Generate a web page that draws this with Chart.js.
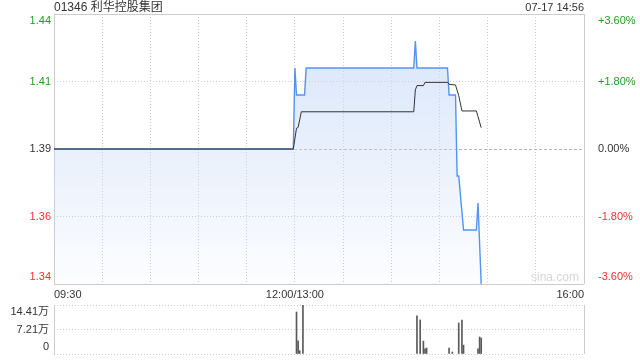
<!DOCTYPE html>
<html>
<head>
<meta charset="utf-8">
<script src="https://cdn.jsdelivr.net/npm/chart.js@4.4.1/dist/chart.umd.min.js"></script>
<style>
    html, body { margin: 0; padding: 0; background: #fff; }
    body { width: 640px; height: 360px; position: relative; overflow: hidden; font-family: "Liberation Sans", Arial, "Noto Sans CJK SC", sans-serif; }
    #title { position: absolute; left: 54px; top: 0; font-size: 12px; line-height: 14px; color: #333; }
    #stamp { position: absolute; right: 56px; top: 1px; font-size: 11px; line-height: 13px; color: #333; }
    #mark { position: absolute; left: 531px; top: 270px; font-size: 12px; line-height: 14px; color: #d6d6d6; }
    #priceBox { position: absolute; left: 0; top: 0; width: 640px; height: 300px; }
    #volBox { position: absolute; left: 0; top: 300px; width: 640px; height: 60px; }
</style>
</head>
<body>
<div id="priceBox"><canvas id="priceChart"></canvas></div>
<div id="volBox"><canvas id="volChart"></canvas></div>
<div id="title">01346 利华控股集团</div>
<div id="stamp">07-17 14:56</div>
<div id="mark">sina.com</div>
<script>
// Data (minutes counted from 09:30, lunch break removed: 150 = 12:00/13:00, 330 = 16:00)
const basePrice = 1.39;
const pctTicks = [-3.6, -1.8, 0, 1.8, 3.6];
const priceTickLabels = ['1.34', '1.36', '1.39', '1.41', '1.44'];
const pctTickLabels = ['-3.60%', '-1.80%', '0.00%', '+1.80%', '+3.60%'];
const timeTickMinutes = [0, 150, 330];
const timeTickLabels = ['09:30', '12:00/13:00', '16:00'];

const priceMinutes = [0, 149, 150, 151, 156, 157, 224, 225, 226, 245, 246, 250, 251, 252, 255, 263, 264, 266];
const priceValues = [1.39, 1.39, 1.42, 1.41, 1.41, 1.42, 1.42, 1.43, 1.42, 1.42, 1.41, 1.41, 1.38, 1.38, 1.36, 1.36, 1.37, 1.34];

const avgMinutes = [0, 149, 151, 152, 154, 224, 225, 226, 230, 231, 245, 246, 250, 252, 254, 263, 264, 266];
const avgValues = [1.39, 1.39, 1.3977, 1.398, 1.4038, 1.4038, 1.4119, 1.4135, 1.4135, 1.4147, 1.4147, 1.414, 1.4137, 1.4098, 1.4041, 1.4041, 1.402, 1.3979];

const volMinutes = [151, 152, 153, 155, 226, 228, 230, 231, 232, 246, 248, 252, 254, 255, 264, 265, 266];
const volValues = [12.35, 3.9, 0.97, 14.41, 11.2, 10.0, 3.8, 1.5, 1.76, 1.76, 0.6, 9.1, 10.0, 2.6, 1.5, 5.0, 4.7];
const volTicks = [0, 7.205, 14.41];
const volTickLabels = ['0', '7.21万', '14.41万'];

const FONT = 'Liberation Sans, Arial, "Noto Sans CJK SC", sans-serif';
const GRID = '#cccccc';

// first/last y labels sit inside the box
function edgeLabel(text, i, n) {
    if (i === 0) return [text, ''];
    if (i === n - 1) return ['', text];
    return text;
}

function tickTone(i) {
    if (i > 2) return '#1f9e1f';
    if (i < 2) return '#ee3333';
    return '#333';
}

// keep the plot box fixed, labels are free to overhang
function fixWidth(w) {
    return (scale) => {
        scale.width = w;
        scale.paddingTop = 0;
        scale.paddingBottom = 0;
    };
}

const priceMin = basePrice * (1 - 0.036);
const priceMax = basePrice * (1 + 0.036);
const priceTickValues = pctTicks.map(p => basePrice * (1 + p / 100));
const halfDay = 30;

const xGridTicks = [];
for (let m = 0; m <= 330; m += halfDay) xGridTicks.push({ value: m });

function toPoints(xs, ys) {
    return xs.map((x, i) => ({ x, y: ys[i] }));
}

// Price chart
new Chart(document.getElementById('priceChart'), {
    type: 'line',
    data: {
        datasets: [
            {
                data: toPoints(avgMinutes, avgValues),
                borderColor: '#333',
                borderWidth: 1,
                pointRadius: 0,
                fill: false
            },
            {
                data: toPoints(priceMinutes, priceValues),
                borderColor: '#5593ef',
                borderWidth: 1.4,
                pointRadius: 0,
                fill: 'start',
                backgroundColor: (ctx) => {
                    const area = ctx.chart.chartArea;
                    if (!area) return 'rgba(200,218,248,0.4)';
                    const g = ctx.chart.ctx.createLinearGradient(0, area.top, 0, area.bottom);
                    g.addColorStop(0, 'rgba(200,218,248,0.75)');
                    g.addColorStop(1, 'rgba(200,218,248,0.05)');
                    return g;
                }
            }
        ]
    },
    options: {
        responsive: true,
        maintainAspectRatio: false,
        animation: false,
        layout: { padding: { top: 14, left: 0, right: 0, bottom: 0 } },
        plugins: { legend: { display: false }, tooltip: { enabled: false } },
        scales: {
            x: {
                type: 'linear',
                min: 0,
                max: 330,
                afterBuildTicks: (scale) => { scale.ticks = xGridTicks.map(t => ({ value: t.value })); },
                afterFit: (scale) => {
                    scale.height = 16;
                    scale.paddingLeft = 0;
                    scale.paddingRight = 0;
                },
                border: {
                    display: false,
                    dash: (ctx) => {
                        if (ctx.index === undefined) return [];
                        return (ctx.index === 0 || ctx.index === xGridTicks.length - 1) ? [] : [1, 2];
                    }
                },
                grid: { color: GRID, lineWidth: 1, drawTicks: false },
                ticks: {
                    autoSkip: false,
                    maxRotation: 0,
                    minRotation: 0,
                    align: 'inner',
                    padding: 4,
                    color: '#333',
                    font: { family: FONT, size: 11 },
                    callback: (v) => {
                        const k = timeTickMinutes.indexOf(v);
                        return k >= 0 ? timeTickLabels[k] : '';
                    }
                }
            },
            y: {
                type: 'linear',
                position: 'left',
                min: priceMin,
                max: priceMax,
                afterBuildTicks: (scale) => { scale.ticks = priceTickValues.map(v => ({ value: v })); },
                afterFit: fixWidth(54),
                border: {
                    display: false,
                    dash: (ctx) => {
                        if (ctx.index === undefined) return [];
                        if (ctx.index === 0 || ctx.index === 4) return [];
                        return ctx.index === 2 ? [3, 2] : [1, 2];
                    }
                },
                grid: {
                    drawTicks: false,
                    color: (ctx) => ctx.index === 2 ? '#b4b4b4' : GRID
                },
                ticks: {
                    autoSkip: false,
                    padding: 3,
                    font: { family: FONT, size: 11 },
                    color: (ctx) => tickTone(ctx.index),
                    callback: (v, i) => edgeLabel(priceTickLabels[i], i, priceTickLabels.length)
                }
            },
            y2: {
                type: 'linear',
                position: 'right',
                min: priceMin,
                max: priceMax,
                afterBuildTicks: (scale) => { scale.ticks = priceTickValues.map(v => ({ value: v })); },
                afterFit: fixWidth(56),
                border: { display: false },
                grid: { display: false },
                ticks: {
                    autoSkip: false,
                    padding: 6,
                    font: { family: FONT, size: 11 },
                    color: (ctx) => tickTone(ctx.index),
                    callback: (v, i) => edgeLabel(pctTickLabels[i], i, pctTickLabels.length)
                }
            }
        }
    }
});

// Volume chart
new Chart(document.getElementById('volChart'), {
    type: 'bar',
    data: {
        datasets: [{
            data: toPoints(volMinutes, volValues),
            backgroundColor: '#5a5a5a',
            barThickness: 1
        }]
    },
    options: {
        responsive: true,
        maintainAspectRatio: false,
        animation: false,
        layout: { padding: { top: 5, left: 0, right: 56, bottom: 6 } },
        plugins: { legend: { display: false }, tooltip: { enabled: false } },
        scales: {
            x: {
                type: 'linear',
                min: 0,
                max: 330,
                offset: false,
                afterBuildTicks: (scale) => { scale.ticks = [{ value: 0 }, { value: 330 }]; },
                afterFit: (scale) => {
                    scale.height = 0;
                    scale.paddingLeft = 0;
                    scale.paddingRight = 0;
                },
                border: { display: false },
                grid: { offset: false, drawTicks: false, color: GRID },
                ticks: { display: false }
            },
            y: {
                type: 'linear',
                min: 0,
                max: volTicks[volTicks.length - 1],
                afterBuildTicks: (scale) => { scale.ticks = volTicks.map(v => ({ value: v })); },
                afterFit: fixWidth(54),
                border: { display: false, dash: [1, 2] },
                grid: { drawTicks: false, color: GRID },
                ticks: {
                    autoSkip: false,
                    padding: 5,
                    color: '#333',
                    font: { family: FONT, size: 11 },
                    callback: (v, i) => edgeLabel(volTickLabels[i], i, volTickLabels.length)
                }
            }
        }
    }
});
</script>
</body>
</html>
